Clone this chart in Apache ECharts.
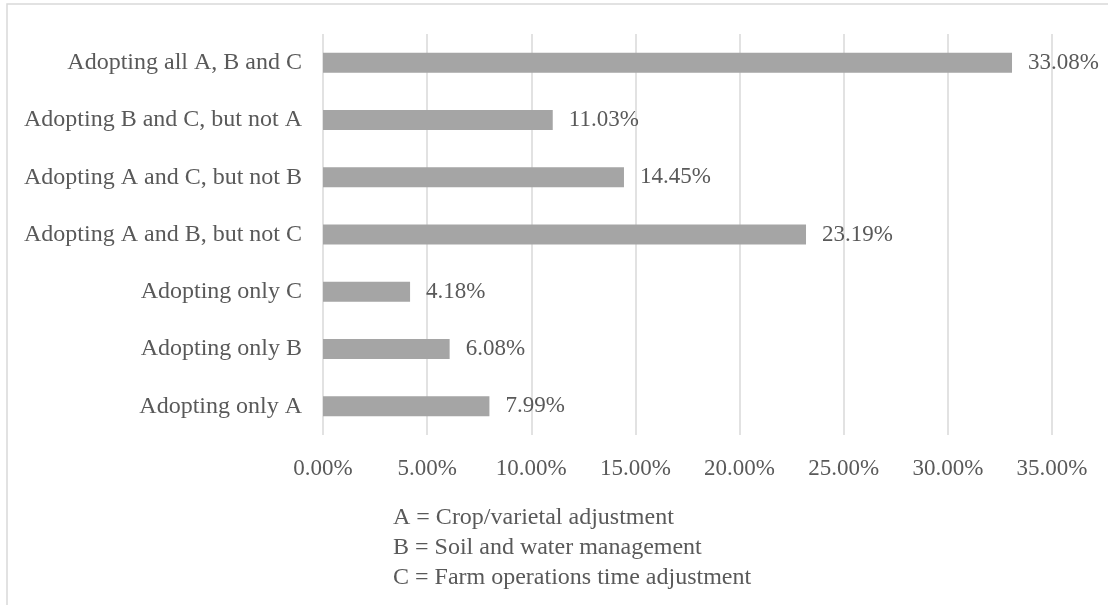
<!DOCTYPE html>
<html>
<head>
<meta charset="utf-8">
<script src="https://cdn.jsdelivr.net/npm/echarts@6/dist/echarts.min.js"></script>
<style>
html,body{margin:0;padding:0;background:#fff;}
#chart{width:1108px;height:605px;}
</style>
</head>
<body>
<div id="chart"></div>
<script>
const categories = [
  "Adopting only A",
  "Adopting only B",
  "Adopting only C",
  "Adopting A and B, but not C",
  "Adopting A and C, but not B",
  "Adopting B and C, but not A",
  "Adopting all A, B and C"
];
const values = [7.99, 6.08, 4.18, 23.19, 14.45, 11.03, 33.08];
const legendLines = [
  "A = Crop/varietal adjustment",
  "B = Soil and water management",
  "C = Farm operations time adjustment"
];
const FONT = '"Liberation Serif", "Times New Roman", serif';
const TXT = '#595959';

const chart = echarts.init(document.getElementById('chart'));
chart.setOption({
  backgroundColor: '#fff',
  animation: false,
  grid: { left: 323, right: 56, top: 34, bottom: 170, containLabel: false },
  xAxis: {
    type: 'value', min: 0, max: 35, interval: 5,
    axisLine: { show: false }, axisTick: { show: false },
    splitLine: { show: true, lineStyle: { color: '#d9d9d9', width: 1.5 } },
    axisLabel: {
      margin: 22, color: TXT, fontFamily: FONT, fontSize: 23,
      formatter: v => v.toFixed(2) + '%'
    }
  },
  yAxis: {
    type: 'category', data: categories,
    axisLine: { show: false }, axisTick: { show: false },
    axisLabel: { margin: 21, color: TXT, fontFamily: FONT, fontSize: 24 }
  },
  series: [{
    type: 'bar', data: values, barWidth: 20,
    itemStyle: { color: '#a5a5a5' },
    label: {
      show: true, position: 'right', distance: 16,
      color: TXT, fontFamily: FONT, fontSize: 23,
      formatter: p => p.value.toFixed(2) + '%'
    }
  }],
  graphic: [
    {
      type: 'rect', silent: true,
      shape: { x: 7, y: 4, width: 1200, height: 700 },
      style: { fill: 'none', stroke: '#d9d9d9', lineWidth: 1.5 }
    },
    {
      type: 'text', left: 393, top: 503,
      style: {
        text: legendLines.join('\n'),
        font: '24px ' + FONT, fill: TXT, lineHeight: 30
      }
    }
  ]
});
</script>
</body>
</html>
